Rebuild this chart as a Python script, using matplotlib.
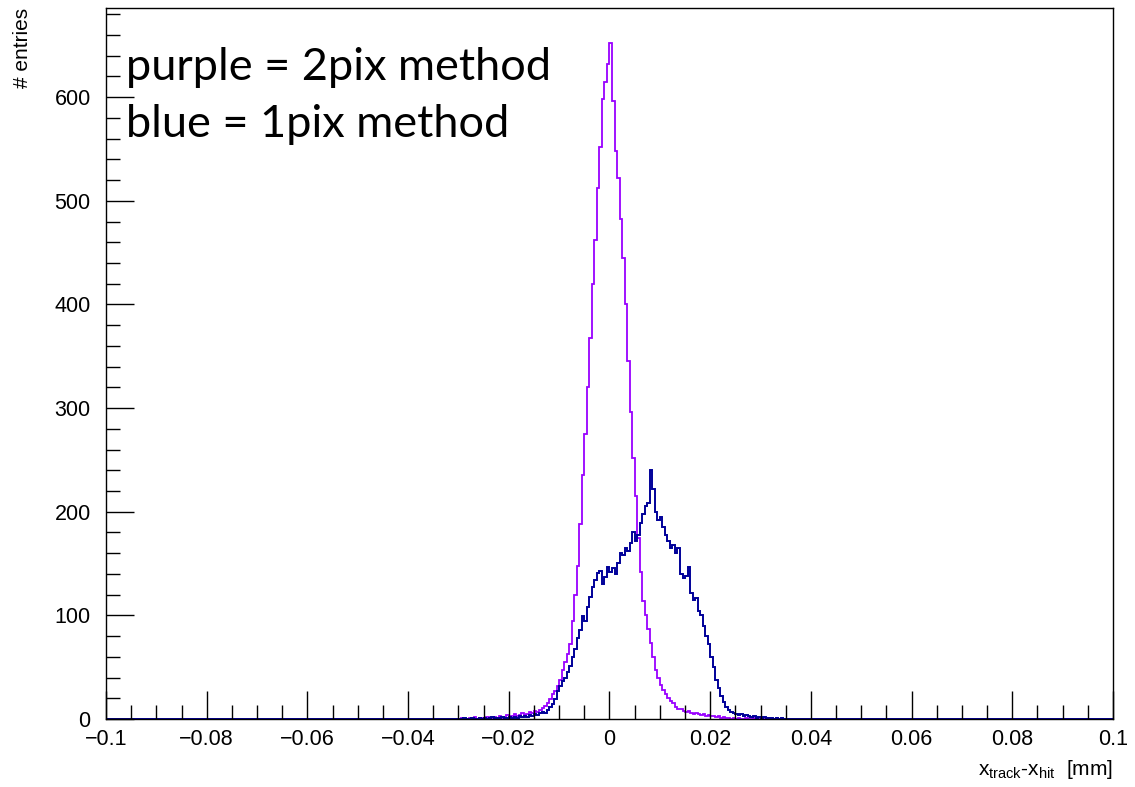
import numpy as np
import matplotlib
matplotlib.use("Agg")
import matplotlib.pyplot as plt
from matplotlib.ticker import MultipleLocator

# histogram binning (mm): 0.0005 wide bins over [-0.1, 0.1]
BIN_W = 0.0005
CORE_START = -0.030          # first bin of the read-off region below

# entries per bin, from x = -0.030 upward (130 bins)
purple_2pix = [
    0, 1, 0, 0, 1, 0, 2, 0, 1, 1,
    0, 2, 1, 0, 2, 1, 3, 1, 2, 4,
    2, 3, 5, 3, 4, 6, 4, 5, 7, 6,
    8, 7, 9, 11, 13, 15, 19, 24, 27, 32,
    38, 47, 55, 63, 72, 95, 120, 148, 188, 235,
    275, 320, 368, 420, 462, 512, 552, 598, 615, 632,
    652, 596, 548, 522, 482, 445, 400, 345, 296, 252,
    215, 175, 142, 114, 100, 87, 73, 60, 47, 40,
    33, 28, 24, 20, 17, 15, 12, 10, 10, 8,
    7, 8, 6, 5, 6, 5, 4, 5, 3, 4,
    3, 3, 2, 3, 1, 2, 1, 1, 0, 1,
    0, 1, 0, 0, 1, 0, 0, 1, 0, 0,
    0, 0, 1, 0, 0, 0, 1, 0, 0, 0,
]
blue_1pix = [
    0, 0, 1, 0, 0, 1, 0, 0, 1, 0,
    1, 0, 1, 2, 0, 1, 1, 2, 1, 1,
    2, 1, 2, 1, 3, 2, 3, 2, 4, 3,
    5, 4, 6, 7, 6, 9, 12, 14, 19, 27,
    32, 37, 40, 45, 51, 60, 68, 78, 86, 99,
    95, 108, 118, 127, 134, 141, 143, 130, 137, 147,
    142, 146, 140, 151, 160, 158, 165, 162, 170, 180,
    172, 178, 189, 198, 206, 208, 240, 222, 200, 192,
    195, 185, 178, 172, 165, 168, 160, 165, 140, 136,
    138, 147, 122, 115, 117, 104, 100, 90, 80, 72,
    60, 50, 38, 30, 22, 16, 12, 9, 7, 6,
    5, 4, 5, 3, 4, 3, 2, 3, 1, 2,
    1, 2, 0, 1, 1, 0, 1, 0, 1, 0,
]

x_ticks = [-0.1, -0.08, -0.06, -0.04, -0.02, 0, 0.02, 0.04, 0.06, 0.08, 0.1]
x_ticklabels = ["\u22120.1", "\u22120.08", "\u22120.06", "\u22120.04", "\u22120.02",
                "0", "0.02", "0.04", "0.06", "0.08", "0.1"]
y_ticks = [0, 100, 200, 300, 400, 500, 600]

PURPLE = "#9900ff"
NAVY = "#000099"


def full_range(core):
    """pad the read-off region with empty bins out to [-0.1, 0.1]"""
    n_all = int(round(0.2 / BIN_W))
    i0 = int(round((CORE_START + 0.1) / BIN_W))
    out = np.zeros(n_all)
    out[i0:i0 + len(core)] = core
    return out


edges = np.linspace(-0.1, 0.1, int(round(0.2 / BIN_W)) + 1)

plt.rcParams["font.family"] = ["Liberation Sans", "DejaVu Sans"]
plt.rcParams["mathtext.default"] = "regular"

fig = plt.figure(figsize=(11.35, 7.87), dpi=100)
ax = fig.add_axes([0.0934, 0.0864, 0.8872, 0.9034])

ax.stairs(full_range(purple_2pix), edges, color=PURPLE, lw=1.3)
ax.stairs(full_range(blue_1pix), edges, color=NAVY, lw=1.4)

ax.set_xlim(-0.1, 0.1)
ax.set_ylim(0, 686)
ax.set_xticks(x_ticks)
ax.set_xticklabels(x_ticklabels)
ax.set_yticks(y_ticks)
ax.xaxis.set_minor_locator(MultipleLocator(0.005))
ax.yaxis.set_minor_locator(MultipleLocator(20))
ax.tick_params(which="both", direction="in", top=False, right=False,
               labelsize=15.5, width=1.0, color="black")
ax.tick_params(axis="x", pad=7)
ax.tick_params(axis="y", pad=11)
ax.tick_params(which="major", length=20)
ax.tick_params(which="minor", length=10)
for s in ax.spines.values():
    s.set_linewidth(1.0)

ax.set_ylabel("# entries", loc="top", fontsize=15, labelpad=16)
ax.set_xlabel("$x_{track}$-$x_{hit}$  [mm]", loc="right", fontsize=15, labelpad=6)

note_font = dict(transform=ax.transAxes, ha="left", va="baseline", fontsize=32.5,
                 family=["Lato", "DejaVu Sans"])
ax.text(0.02, 0.899, "purple = 2pix method", **note_font)
ax.text(0.02, 0.818, "blue = 1pix method", **note_font)

fig.savefig("out.png", dpi=100)
